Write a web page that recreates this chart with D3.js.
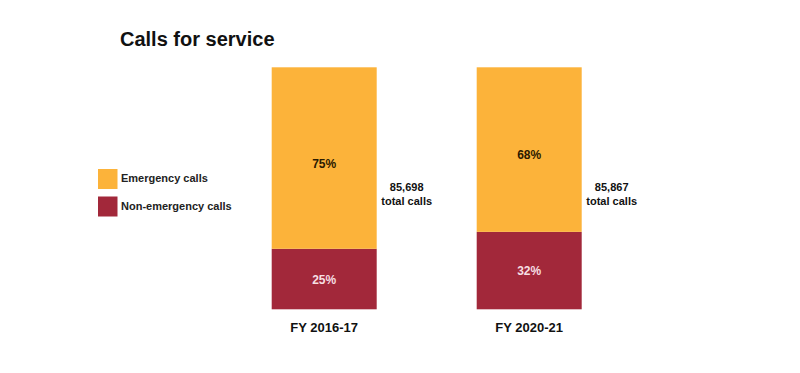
<!DOCTYPE html>
<html>
<head>
<meta charset="utf-8">
<script src="https://cdn.jsdelivr.net/npm/d3@7/dist/d3.min.js"></script>
<style>
  html, body { margin: 0; padding: 0; background: #fff; }
  svg { display: block; font-family: "Liberation Sans", Arial, sans-serif; }
</style>
</head>
<body>
<svg id="chart" width="800" height="373"></svg>
<script>
const title = "Calls for service";
const categories = ["FY 2016-17", "FY 2020-21"];
const seriesNames = ["Emergency calls", "Non-emergency calls"];
const emergency = [75, 68];
const nonEmergency = [25, 32];
const totals = ["85,698", "85,867"];
const colors = ["#FCB33A", "#A2283A"];
const labelColors = ["#2a1a00", "#f6dfe2"];

const svg = d3.select("#chart");

svg.append("text")
  .attr("x", 120).attr("y", 46)
  .attr("font-size", 20).attr("font-weight", "bold").attr("fill", "#111")
  .text(title);

const x = d3.scaleBand().domain(categories).range([271.7, 581.7]).paddingInner(0.4878).paddingOuter(0);
const y = d3.scaleLinear().domain([100, 0]).range([67.3, 309.3]);

const rows = categories.map((c, i) => ({ cat: c, vals: [emergency[i], nonEmergency[i]], total: totals[i] }));
const stack = d3.stack().keys([1, 0]).value((d, k) => d.vals[k]);
const stacked = stack(rows); // bottom: non-emergency, top: emergency

const g = svg.append("g");
stacked.forEach(layer => {
  const k = layer.key;
  g.selectAll(null).data(layer).enter().append("rect")
    .attr("x", d => x(d.data.cat))
    .attr("width", x.bandwidth())
    .attr("y", d => y(d[1]))
    .attr("height", d => y(d[0]) - y(d[1]))
    .attr("fill", colors[k]);
  g.selectAll(null).data(layer).enter().append("text")
    .attr("x", d => x(d.data.cat) + x.bandwidth() / 2)
    .attr("y", d => (y(d[0]) + y(d[1])) / 2)
    .attr("dy", k === 0 ? "0.8em" : "0.4em")
    .attr("text-anchor", "middle")
    .attr("font-size", 12).attr("font-weight", "bold")
    .attr("fill", labelColors[k])
    .text(d => d.data.vals[k] + "%");
});

// category labels
svg.selectAll(null).data(categories).enter().append("text")
  .attr("x", d => x(d) + x.bandwidth() / 2)
  .attr("y", 331.5)
  .attr("text-anchor", "middle")
  .attr("font-size", 13).attr("font-weight", "bold").attr("fill", "#111")
  .text(d => d);

// totals
const tg = svg.selectAll(null).data(rows).enter().append("text")
  .attr("text-anchor", "middle")
  .attr("font-size", 11).attr("font-weight", "bold").attr("fill", "#111")
  .attr("transform", d => `translate(${x(d.cat) + x.bandwidth() + 30},191)`);
tg.append("tspan").attr("x", 0).attr("y", 0).text(d => d.total);
tg.append("tspan").attr("x", 0).attr("y", 13.5).text("total calls");

// legend
const lg = svg.append("g").attr("transform", "translate(98,169)");
const items = lg.selectAll(null).data(seriesNames).enter().append("g")
  .attr("transform", (d, i) => `translate(0,${i * 27.5})`);
items.append("rect").attr("width", 19.5).attr("height", 20).attr("fill", (d, i) => colors[i]);
items.append("text").attr("x", 23).attr("y", 13)
  .attr("font-size", 11).attr("font-weight", "bold").attr("fill", "#222")
  .text(d => d);
</script>
</body>
</html>
